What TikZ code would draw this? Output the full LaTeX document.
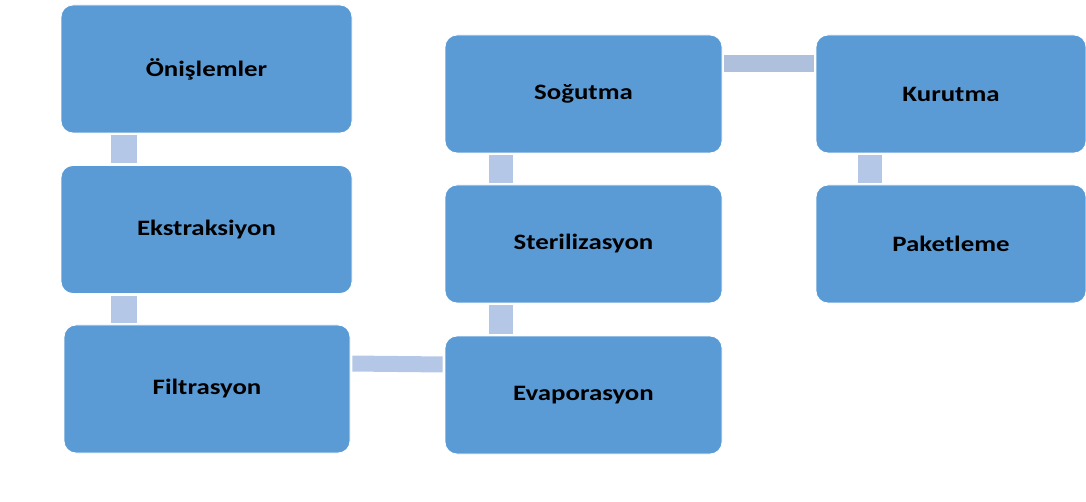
\documentclass[tikz,border=0pt]{standalone}
\usepackage{fontspec}
\newfontfamily\stepfont{Carlito}[FakeStretch=1.22]
\usetikzlibrary{positioning}
\definecolor{stepblue}{HTML}{5B9BD5}
\definecolor{linkblue}{HTML}{B4C7E7}

\begin{document}
\begin{tikzpicture}[x=1pt, y=-1pt,
stepbox/.style={fill=stepblue, draw=white, line width=0.8pt, rounded corners=12pt, font=\stepfont\bfseries\fontsize{22}{26}\selectfont, inner sep=0pt},
tall/.style={minimum width=291pt, minimum height=128pt},
short/.style={minimum width=277pt, minimum height=118pt},
link/.style={draw=linkblue, shorten <=2pt, shorten >=2pt}
]
\useasboundingbox (0,0) rectangle (1086,502);
% left column
\node[stepbox, tall] (onis) at (206.5,69) {Önişlemler};
\node[stepbox, tall] (ekst) at (206.5,229.5) {Ekstraksiyon};
\node[stepbox, tall, minimum width=286pt] (filt) at (207,389) {Filtrasyon};
% middle column
\node[stepbox, short] (sogut) at (583.5,94) {Soğutma};
\node[stepbox, short] (steril) at (583.5,244) {Sterilizasyon};
\node[stepbox, short] (evap) at (583.5,395) {Evaporasyon};
% right column
\node[stepbox, short, minimum width=270pt] (kurut) at (951,94) {Kurutma};
\node[stepbox, short, minimum width=270pt] (paket) at (951,244) {Paketleme};
% connectors
\draw[link, line width=26pt] ([xshift=-82.5pt]onis.south) -- ([xshift=-82.5pt]ekst.north);
\draw[link, line width=26pt] ([xshift=-82.5pt]ekst.south) -- ([xshift=-83pt]filt.north);
\draw[link, line width=16pt] ([yshift=25.5pt]filt.east) -- ([yshift=30.5pt]evap.west);
\draw[link, line width=24pt] ([xshift=-82.5pt]evap.north) -- ([xshift=-82.5pt]steril.south);
\draw[link, line width=24pt] ([xshift=-82.5pt]steril.north) -- ([xshift=-82.5pt]sogut.south);
\draw[link, line width=17pt, draw=linkblue!90!gray] ([yshift=30.5pt]sogut.east) -- ([yshift=30.5pt]kurut.west);
\draw[link, line width=24pt] ([xshift=-81pt]kurut.south) -- ([xshift=-81pt]paket.north);
\end{tikzpicture}
\end{document}
